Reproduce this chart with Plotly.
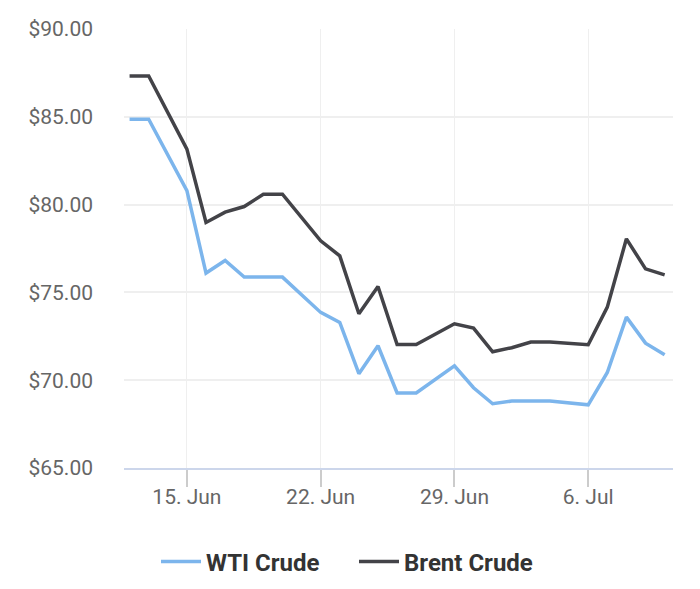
import plotly.graph_objects as go

dates = ["2020-06-12", "2020-06-13", "2020-06-15", "2020-06-16", "2020-06-17", "2020-06-18",
         "2020-06-19", "2020-06-20", "2020-06-22", "2020-06-23", "2020-06-24", "2020-06-25",
         "2020-06-26", "2020-06-27", "2020-06-29", "2020-06-30", "2020-07-01", "2020-07-02",
         "2020-07-03", "2020-07-04", "2020-07-06", "2020-07-07", "2020-07-08", "2020-07-09",
         "2020-07-10"]

wti = [84.86, 84.86, 80.80, 76.10, 76.82, 75.87, 75.87, 75.87, 73.86, 73.29, 70.37, 71.96,
       69.27, 69.27, 70.82, 69.57, 68.66, 68.81, 68.81, 68.81, 68.60, 70.44, 73.59, 72.11, 71.45]

brent = [87.33, 87.33, 83.16, 78.98, 79.57, 79.89, 80.59, 80.59, 77.94, 77.08, 73.78, 75.34,
         72.03, 72.03, 73.21, 72.97, 71.62, 71.85, 72.17, 72.17, 72.02, 74.16, 78.05, 76.34, 76.00]

y_ticks = [65, 70, 75, 80, 85, 90]
y_tick_labels = ["$65.00", "$70.00", "$75.00", "$80.00", "$85.00", "$90.00"]

fig = go.Figure()
fig.add_trace(go.Scatter(x=dates, y=wti, mode="lines", name="WTI Crude",
                         line=dict(color="#7cb5ec", width=3.5)))
fig.add_trace(go.Scatter(x=dates, y=brent, mode="lines", name="Brent Crude",
                         line=dict(color="#434348", width=3.5)))

fig.update_layout(
    width=700, height=589,
    margin=dict(l=124, r=27, t=29, b=121),
    paper_bgcolor="white", plot_bgcolor="white",
    font=dict(family="Roboto", size=21, color="#666666"),
    showlegend=True,
    legend=dict(orientation="h", xref="container", x=0.5 + 4 / 700, xanchor="center",
                yref="container", y=1 - 562 / 589, yanchor="middle",
                font=dict(family="Roboto", size=24, color="#333333", weight="bold"),
                itemwidth=40, bgcolor="rgba(0,0,0,0)",
                entrywidth=143, entrywidthmode="pixels"),
    xaxis=dict(
        type="date",
        range=["2020-06-11T17:00", "2020-07-10T10:30"],
        tick0="2020-06-15", dtick=7 * 24 * 3600 * 1000,
        tickformat="%-d. %b",
        showgrid=True, gridcolor="#efefef", gridwidth=1,
        showline=True, linecolor="#ccd6eb", linewidth=1.5,
        ticks="outside", ticklen=17, tickcolor="#cccccc", tickwidth=1.5,
        ticklabelstandoff=-8,
        zeroline=False,
        tickfont=dict(size=21, color="#666666"),
    ),
    yaxis=dict(
        range=[65, 90],
        tickvals=y_ticks, ticktext=y_tick_labels,
        showgrid=True, gridcolor="#efefef", gridwidth=1.5,
        showline=False, zeroline=False,
        ticks="", ticklabelstandoff=30,
        tickfont=dict(size=21, color="#666666"),
    ),
)

fig.write_html("out.html")
